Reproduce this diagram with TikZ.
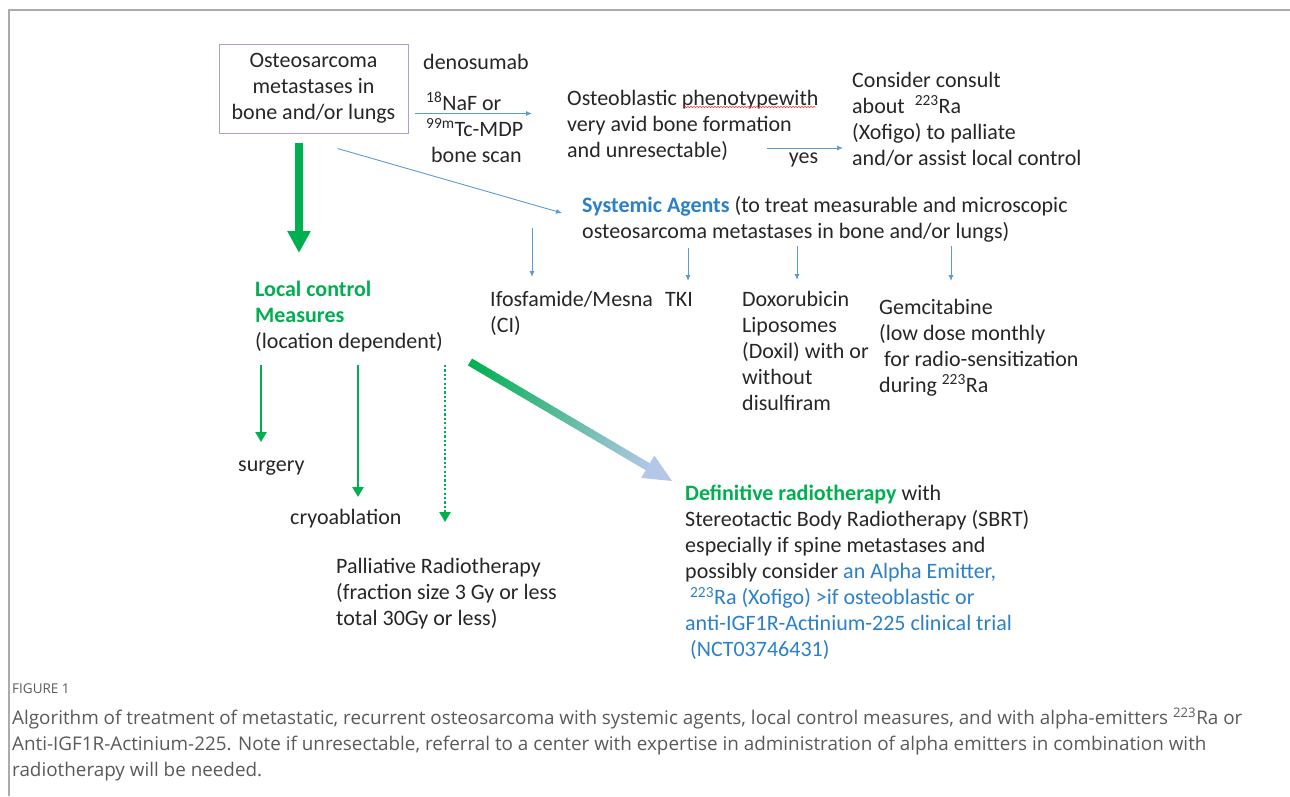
\documentclass[tikz,border=0pt]{standalone}
\usepackage{fontspec}
\setmainfont{Carlito}
\newfontfamily\capfont{Open Sans}
\usetikzlibrary{arrows.meta, calc, decorations.pathmorphing}
\definecolor{lgreen}{HTML}{00B050}
\definecolor{agentblue}{HTML}{2C7FC9}
\definecolor{arrblue}{HTML}{5B9BD5}
\definecolor{headblue}{HTML}{B4C7E7}
\definecolor{boxpurple}{HTML}{B39DD6}
\definecolor{txtgray}{HTML}{262626}
\definecolor{capgray}{HTML}{5A5A5A}
\definecolor{framegray}{HTML}{ABABAB}
\tikzstyle{txt}=[inner sep=0pt, anchor=north west, align=left, text=txtgray, font=\fontsize{22}{26}\selectfont]
\tikzstyle{bluearr}=[draw=arrblue, line width=.9pt, -{Latex[length=6pt,width=5pt]}]
\tikzstyle{greenarr}=[draw=lgreen, line width=2.6pt, -{Triangle[length=10pt,width=11pt]}]
\tikzstyle{bigarr}=[draw=lgreen, line width=7.5pt, -{Triangle[length=22pt,width=22pt]}]

\begin{document}
\begin{tikzpicture}[x=1pt, y=-1pt]
    \useasboundingbox (0,0) rectangle (1290,796);
    \draw[framegray, line width=1.3pt] (9,796) -- (9,10) -- (1290,10);

    \node[draw=boxpurple, line width=1pt, minimum width=189pt, minimum height=89pt, align=center, text=txtgray, font=\fontsize{22}{26}\selectfont] (box) at (313.5,88.5) {Osteosarcoma\\metastases in\\bone and/or lungs};

    \node[txt] (deno) at (423,54) {denosumab};
    \node[txt] (scan) at (426,92) {\textsuperscript{18}NaF or\\\textsuperscript{99m}Tc-MDP\\\ bone scan};
    \node[txt] (osteo) at (567,90) {Osteoblastic phenotypewith\\very avid bone formation\\and unresectable)};
    \node[txt] (consult) at (852,72) {Consider consult\\about\ \ \textsuperscript{223}Ra\\(Xofigo) to palliate\\and/or assist local control};
    \node[txt] (systemic) at (582,196) {{\bfseries\color{agentblue}Systemic Agents} (to treat measurable and microscopic\\osteosarcoma metastases in bone and/or lungs)};

    \node[txt] (ifos) at (490,291) {Ifosfamide/Mesna\\(CI)};
    \node[txt] (tki) at (665,292) {TKI};
    \node[txt] (doxo) at (742,291) {Doxorubicin\\Liposomes\\(Doxil) with or\\without\\disulfiram};
    \node[txt] (gem) at (879,299) {Gemcitabine\\(low dose monthly\\\ for radio-sensitization\\during \textsuperscript{223}Ra};

    \node[txt] (local) at (255,281) {{\bfseries\color{lgreen}Local control}\\{\bfseries\color{lgreen}Measures}\\(location dependent)};
    \node[txt] (surgery) at (238,461) {surgery};
    \node[txt] (cryo) at (290,509) {cryoablation};
    \node[txt] (pall) at (336,558) {Palliative Radiotherapy\\(fraction size 3 Gy or less\\total 30Gy or less)};

    \node[txt] (defin) at (685,485) {{\bfseries\color{lgreen}Definitive radiotherapy} with\\Stereotactic Body Radiotherapy (SBRT)\\especially if spine metastases and\\possibly consider {\color{agentblue}an Alpha Emitter,}\\{\color{agentblue}\ \textsuperscript{223}Ra (Xofigo) >if osteoblastic or}\\{\color{agentblue}anti-IGF1R-Actinium-225 clinical trial}\\{\color{agentblue}\ (NCT03746431)}};

    % spell check mark
    \draw[red!80, line width=.5pt, decorate, decoration={snake, amplitude=.7pt, segment length=3pt}] (684,107) -- (816,107);

    % blue connectors
    \coordinate (scanfrom) at ([yshift=-25pt]box.east);
    \draw[bluearr, shorten <=6pt, shorten >=35pt] (scanfrom) -- (scanfrom -| osteo.west);
    \coordinate (yesfrom) at (767,148);
    \draw[bluearr, shorten >=9pt] (yesfrom) -- (yesfrom -| consult.west)
        node[txt, pos=.43, anchor=north, yshift=-4pt] {yes};
    \coordinate (sysfrom) at ([xshift=24pt,yshift=-15pt]box.south);
    \draw[bluearr] (sysfrom) -- ([xshift=-20pt,yshift=-17pt]systemic.north west);
    \foreach \n/\dx/\dy/\s in {ifos/-50/-32/14, tki/106/-52/11, doxo/215/-50/11, gem/369/-50/18} {
        \coordinate (t\n) at ([xshift=\dx pt,yshift=\dy pt]systemic.north west);
        \draw[bluearr, shorten >=\s pt] (t\n) -- (t\n |- \n.north);
    }

    % green connectors
    \coordinate (bigfrom) at ([xshift=-14.5pt,yshift=-9pt]box.south);
    \draw[bigarr, shorten >=28pt] (bigfrom) -- (bigfrom |- local.north);
    \coordinate (sur) at ([xshift=6pt,yshift=-84pt]local.north west);
    \coordinate (cry) at ([xshift=103pt,yshift=-84pt]local.north west);
    \coordinate (pal) at ([xshift=190pt,yshift=-84pt]local.north west);
    \draw[greenarr, shorten >=19pt] (sur) -- (sur |- surgery.north);
    \draw[greenarr, shorten >=12pt] (cry) -- (cry |- cryo.north);
    \draw[greenarr, dash pattern=on 2.2pt off 2.2pt, shorten >=36pt] (pal) -- (pal |- pall.north);

    % shaded arrow to radiotherapy
    \coordinate (gs) at (470,362);
    \coordinate (ge) at (672,481);
    \foreach \i in {0,...,39} {
        \pgfmathsetmacro\pct{100-2.5*\i}
        \pgfmathsetmacro\fa{\i*0.022}
        \pgfmathsetmacro\fb{(\i+1)*0.022+0.004}
        \draw[line width=8pt, color=lgreen!\pct!headblue] ($(gs)!\fa!(ge)$) -- ($(gs)!\fb!(ge)$);
    }
    \coordinate (hb) at ($(gs)!0.88!(ge)$);
    \fill[headblue] (ge) -- ($(hb)!13pt!90:(ge)$) -- ($(hb)!13pt!-90:(ge)$) -- cycle;

    % caption
    \node[inner sep=0pt, anchor=north west, text=capgray, font=\capfont\fontsize{13.5}{15}\selectfont] (fig) at (12,684) {FIGURE 1};
    \node[inner sep=0pt, anchor=north west, align=left, text=capgray, font=\capfont\fontsize{18.85}{26}\selectfont] (cap) at (12,708) {Algorithm of treatment of metastatic, recurrent osteosarcoma with systemic agents, local control measures, and with alpha-emitters \textsuperscript{223}Ra or\\Anti-IGF1R-Actinium-225. Note if unresectable, referral to a center with expertise in administration of alpha emitters in combination with\\radiotherapy will be needed.};
\end{tikzpicture}
\end{document}
